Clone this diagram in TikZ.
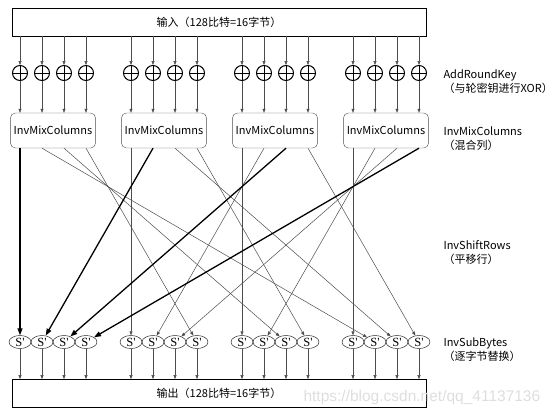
\documentclass[tikz,border=0pt]{standalone}
\usepackage{fontspec}
\setmainfont{Noto Sans CJK SC}
\newfontfamily\sboxfont{Liberation Serif}
\newfontfamily\markfont{Liberation Sans}
\usetikzlibrary{arrows.meta,shapes.geometric}

\begin{document}
\begin{tikzpicture}
    [
        x = 1pt, y = -1pt,
        font = \fontsize{11}{14}\selectfont,
        line/.style = {draw=black!70, line width=0.5pt, -{Triangle[length=4pt,width=3pt]}},
        heavy/.style = {draw=black, line width=1.3pt, -{Triangle[length=7pt,width=5pt]}},
        bytebox/.style = {draw, line width=0.7pt, minimum width=414pt, minimum height=28pt},
        xorsym/.style = {circle, draw, line width=1pt, minimum size=15pt, inner sep=0pt,
                path picture = {\draw[line width=1pt]
                        (path picture bounding box.north) -- (path picture bounding box.south)
                        (path picture bounding box.west) -- (path picture bounding box.east);}},
        mixbox/.style = {draw=black!70, rounded corners=5pt, minimum width=82pt, minimum height=35pt},
        sbox/.style = {ellipse, draw, minimum width=22pt, minimum height=13pt, inner sep=0pt,
                font=\sboxfont\fontsize{12.5}{12.5}\selectfont},
        note/.style = {anchor=west, align=left},
    ]

    \useasboundingbox (0,0) rectangle (554,415);

    \node[bytebox] (in) at (219,22) {输入（128比特=16字节）};
    \node[bytebox] (out) at (219,393.5) {输出（128比特=16字节）};

    \foreach \c in {0,...,3}{
            \node[mixbox] (m\c) at (53+111*\c,130.5) {InvMixColumns};
            \foreach \r in {0,...,3}{
                    \node[xorsym] (x\c\r) at (20+111*\c+22*\r,73) {};
                    \node[sbox] (s\c\r) at (20+111*\c+22*\r,342) {S'};
                }
        }

    \foreach \c in {0,...,3}{
            \foreach \r in {0,...,3}{
                    \draw[line] (in.south -| x\c\r) -- (x\c\r);
                    \draw[line] (x\c\r) -- (x\c\r |- m\c.north);
                    \draw[line] (s\c\r) -- (s\c\r |- out.north);
                    \pgfmathtruncatemacro\d{mod(\c-\r+4,4)}
                    \ifnum\d>0
                        \draw[line] (x\c\r |- m\c.south) -- (s\d\r);
                    \fi
                }
        }

    \foreach \c in {0,...,3}{
            \draw[heavy] (x\c\c |- m\c.south) -- (s0\c);
        }

    \node[note] (addkey) at (440,82) {AddRoundKey\\（与轮密钥进行XOR）};
    \node[note] (mixcol) at (440,138.5) {InvMixColumns\\（混合列）};
    \node[note] (shift) at (440,252.5) {InvShiftRows\\（平移行）};
    \node[note] (subbyte) at (440,349.5) {InvSubBytes\\（逐字节替换）};

    \node[anchor=west, text=black!13, font=\markfont\fontsize{15.5}{15.5}\selectfont] (mark) at (300,397) {https://blog.csdn.net/qq\_41137136};

\end{tikzpicture}
\end{document}
